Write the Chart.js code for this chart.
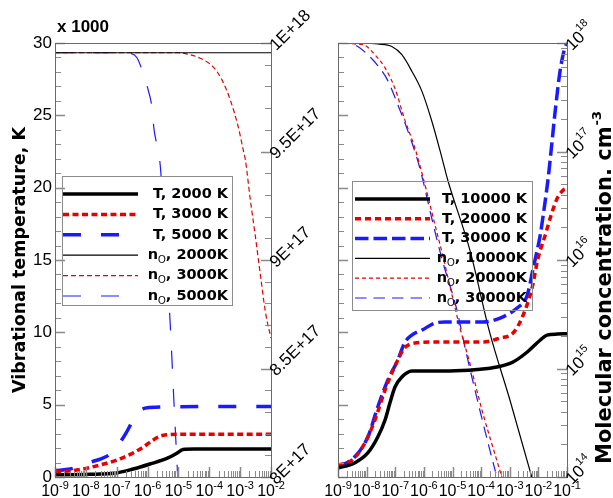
<!DOCTYPE html>
<html>
<head>
<meta charset="utf-8">
<script src="https://cdn.jsdelivr.net/npm/chart.js@4.4.1/dist/chart.umd.min.js"></script>
<style>
  html, body { margin: 0; padding: 0; background: #fff; }
  #wrap { position: relative; width: 613px; height: 498px; overflow: hidden; }
  #wrap canvas { position: absolute; left: 0; top: 0; }
</style>
</head>
<body>
<div id="wrap">
  <canvas id="left" width="613" height="498"></canvas>
  <canvas id="right" width="613" height="498"></canvas>
</div>
<script>
// time in s, temperature in units of 1000 K, concentration in cm^-3

// left panel: 2000 / 3000 / 5000 K
var tT2000 = [1e-9, 1e-8, 2.9e-8, 1e-7, 3.4e-7, 1.2e-6, 4.4e-6, 9.1e-6, 1.4e-5, 3.2e-5, 1e-2];
var T2000  = [0.15, 0.18, 0.2, 0.28, 0.55, 0.9, 1.3, 1.66, 1.9, 1.93, 1.93];
var tT3000 = [1e-9, 5.1e-9, 2.9e-8, 1e-7, 3.4e-7, 7.2e-7, 1.5e-6, 2.6e-6, 4.4e-6, 1e-5, 1e-2];
var T3000  = [0.34, 0.48, 0.83, 1.17, 1.66, 2.07, 2.55, 2.83, 2.92, 2.95, 2.95];
var tT5000 = [1e-9, 3.1e-9, 1.4e-8, 2.9e-8, 6.2e-8, 1.1e-7, 2.0e-7, 3.4e-7, 5.4e-7, 8.3e-7, 1.8e-6, 1e-2];
var T5000  = [0.45, 0.55, 1.03, 1.24, 1.59, 2.2, 3.03, 3.93, 4.55, 4.76, 4.83, 4.88];

var tN2000 = [1e-9, 1e-2];
var N2000  = [9.955e17, 9.955e17];
var tN3000 = [1e-9, 1e-5, 1.9e-5, 5.1e-5, 1.35e-4, 2.6e-4, 4.8e-4, 8.7e-4, 1.26e-3, 1.48e-3, 2.1e-3, 3.1e-3, 4.5e-3, 6.6e-3, 1e-2];
var N3000  = [9.955e17, 9.955e17, 9.949e17, 9.93e17, 9.889e17, 9.829e17, 9.737e17, 9.613e17, 9.507e17, 9.461e17, 9.286e17, 9.111e17, 8.935e17, 8.76e17, 8.64e17];
var tN5000 = [1e-9, 1.86e-7, 2.7e-7, 4.6e-7, 6.6e-7, 1.05e-6, 1.4e-6, 1.6e-6, 2.0e-6, 2.6e-6, 3.7e-6, 5.4e-6, 7.1e-6, 9.5e-6, 1.26e-5];
var N5000  = [9.955e17, 9.955e17, 9.953e17, 9.931e17, 9.876e17, 9.783e17, 9.70e17, 9.608e17, 9.53e17, 9.429e17, 9.069e17, 8.71e17, 8.355e17, 8.0e17, 7.7e17];

// right panel: 10000 / 20000 / 30000 K
var tT10000 = [1e-9, 3.8e-9, 1.1e-8, 2.45e-8, 4.4e-8, 6.5e-8, 9.8e-8, 1.7e-7, 3.8e-7, 8.1e-6, 7.2e-5, 3.6e-4, 1.3e-3, 4.1e-3, 1.17e-2, 2.0e-2, 4.6e-2, 0.1];
var T10000  = [0.62, 0.97, 1.66, 2.76, 3.94, 5.11, 6.22, 6.91, 7.33, 7.33, 7.43, 7.6, 7.95, 8.64, 9.47, 9.81, 9.88, 9.9];
var tT20000 = [1e-9, 3.1e-9, 8.7e-9, 1.95e-8, 4.4e-8, 7.6e-8, 1.23e-7, 2.1e-7, 4.9e-7, 2.45e-6, 1.23e-5, 1.17e-4, 4.6e-4, 1.3e-3, 2.95e-3, 6.0e-3, 9.8e-3, 1.74e-2, 2.6e-2, 4.6e-2, 7.4e-2, 0.1];
var T20000  = [0.83, 1.17, 2.35, 3.94, 6.01, 7.19, 8.09, 8.92, 9.26, 9.33, 9.33, 9.33, 9.61, 9.95, 11.2, 13.06, 15.14, 16.72, 17.9, 19.28, 19.83, 19.97];
var tT30000 = [1e-9, 3.8e-9, 1.1e-8, 2.45e-8, 5.5e-8, 1.23e-7, 2.1e-7, 3.8e-7, 8.5e-7, 2.45e-6, 5.5e-6, 1.45e-5, 1.17e-4, 4.6e-4, 1.8e-3, 4.1e-3, 6.6e-3, 1.16e-2, 1.6e-2, 2.2e-2, 2.8e-2, 3.9e-2, 5.8e-2, 8.0e-2, 0.1];
var T30000  = [0.69, 1.38, 2.76, 4.84, 6.7, 8.09, 9.26, 9.81, 10.15, 10.64, 10.71, 10.71, 10.71, 10.99, 11.68, 12.58, 14.44, 16.72, 18.59, 20.66, 22.6, 25.36, 28.13, 29.51, 30];

var tN10000 = [1e-9, 1.5e-8, 2.45e-8, 7.6e-8, 1.7e-7, 3.8e-7, 8.5e-7, 1.9e-6, 4.3e-6, 6.9e-6, 4.1e-5, 2.0e-4, 1.02e-3, 6.0e-3, 1e-2];
var N10000  = [9.9e17, 9.9e17, 9.8e17, 9.3e17, 7.8e17, 5.5e17, 3.6e17, 1.9e17, 8.7e16, 5.4e16, 1.22e16, 2.14e15, 5.1e14, 9.8e13, 6.0e13];
var tN20000 = [1e-9, 2.5e-9, 3.8e-9, 8.7e-9, 1.95e-8, 4.4e-8, 9.8e-8, 2.1e-7, 4.9e-7, 1.1e-6, 2.45e-6, 4.3e-6, 1.8e-5, 4.1e-5, 1.17e-4, 2.6e-4, 5.4e-4, 1e-3];
var N20000  = [9.9e17, 9.9e17, 9.8e17, 9.5e17, 7.8e17, 5.9e17, 3.8e17, 2.0e17, 1.07e17, 4.9e16, 2.1e16, 1.17e16, 2.4e15, 1.1e15, 3.8e14, 1.86e14, 9.8e13, 5.6e13];
var tN30000 = [1e-9, 2.2e-9, 4.9e-9, 1.1e-8, 2.45e-8, 5.5e-8, 1.23e-7, 2.75e-7, 6.2e-7, 9.3e-7, 1.9e-6, 4.3e-6, 1.45e-5, 2.75e-5, 9.1e-5, 2.4e-4, 3.6e-4, 6.3e-4];
var N30000  = [9.9e17, 9.9e17, 9.3e17, 7.8e17, 6.2e17, 4.5e17, 2.7e17, 1.55e17, 8.1e16, 5.4e16, 2.4e16, 1.02e16, 3.4e15, 1.55e15, 4.1e14, 1.48e14, 9.8e13, 5.0e13];

// axis ticks and labels
var tempTicks = [0, 5, 10, 15, 20, 25, 30];
var leftConcTicks = [8e17, 8.5e17, 9e17, 9.5e17, 1e18];
var leftConcLabels = ['8E+17', '8.5E+17', '9E+17', '9.5E+17', '1E+18'];
var leftTimeExps = [-9, -8, -7, -6, -5, -4, -3, -2];
var rightTimeExps = [-9, -8, -7, -6, -5, -4, -3, -2, -1];
var rightConcExps = [14, 15, 16, 17, 18];

var BLACK = '#000000', RED = '#e80000', BLUE = '#1a1aff';
var TICK = '#8a8a8a', FRAME = '#6a6a6a';
var FONT = '"Liberation Sans", Arial, sans-serif';
var BOLD = '"DejaVu Sans", Verdana, sans-serif';

function pts(xs, ys) {
  return xs.map(function (x, i) { return { x: x, y: ys[i] }; });
}

function series(label, xs, ys, axis, color, width, dash) {
  return {
    label: label, data: pts(xs, ys), yAxisID: axis,
    borderColor: color, borderWidth: width, borderDash: dash,
    borderCapStyle: 'butt', pointRadius: 0, fill: false,
    cubicInterpolationMode: 'monotone'
  };
}

function linValues(min, step, n) {
  var out = [];
  for (var i = 0; i <= n; i++) out.push(min + i * step);
  return out;
}

function logMinor(e0, e1) {
  var out = [];
  for (var e = e0; e < e1; e++)
    for (var k = 2; k <= 9; k++) out.push(k * Math.pow(10, e));
  return out;
}

function decades(exps) {
  return exps.map(function (e) { return Math.pow(10, e); });
}

function ticksV(ctx, scale, x, dir, values, len, width) {
  ctx.save();
  ctx.strokeStyle = TICK; ctx.lineWidth = width; ctx.setLineDash([]);
  ctx.beginPath();
  values.forEach(function (v) {
    var y = Math.round(scale.getPixelForValue(v)) + 0.5;
    ctx.moveTo(x, y); ctx.lineTo(x + dir * len, y);
  });
  ctx.stroke();
  ctx.restore();
}

function ticksH(ctx, scale, y, values, len, width) {
  ctx.save();
  ctx.strokeStyle = TICK; ctx.lineWidth = width; ctx.setLineDash([]);
  ctx.beginPath();
  values.forEach(function (v) {
    var x = Math.round(scale.getPixelForValue(v)) + 0.5;
    ctx.moveTo(x, y); ctx.lineTo(x, y - len);
  });
  ctx.stroke();
  ctx.restore();
}

function drawFrame(ctx, a) {
  ctx.save();
  ctx.strokeStyle = FRAME; ctx.lineWidth = 1; ctx.setLineDash([]);
  ctx.strokeRect(Math.round(a.left) + 0.5, Math.round(a.top) + 0.5,
    Math.round(a.right - a.left), Math.round(a.bottom - a.top));
  ctx.restore();
}

// "10" followed by a raised exponent, x is the left edge, y the baseline
function pow10(ctx, exp, x, y, size, supSize, rise) {
  ctx.font = size + 'px ' + FONT;
  ctx.fillText('10', x, y);
  var w = ctx.measureText('10').width;
  ctx.font = supSize + 'px ' + FONT;
  ctx.fillText(String(exp), x + w, y - rise);
}

function pow10Width(ctx, exp, size, supSize) {
  ctx.font = size + 'px ' + FONT;
  var w = ctx.measureText('10').width;
  ctx.font = supSize + 'px ' + FONT;
  return w + ctx.measureText(String(exp)).width;
}

function timeLabels(ctx, scale, exps) {
  ctx.save();
  ctx.fillStyle = '#000'; ctx.textAlign = 'left'; ctx.textBaseline = 'alphabetic';
  exps.forEach(function (e) {
    var px = scale.getPixelForValue(Math.pow(10, e));
    var w = pow10Width(ctx, e, 16, 11);
    pow10(ctx, e, px - w / 2, 496, 16, 11, 7);
  });
  ctx.restore();
}

// label text with an optional subscript marked by "_" (n_O -> n with subscript O)
function richText(ctx, text, xRight, y) {
  var parts = [];
  var s = text.split('_');
  if (s.length === 1) parts.push({ t: text, sub: false });
  else {
    parts.push({ t: s[0], sub: false });
    parts.push({ t: s[1].charAt(0), sub: true });
    parts.push({ t: s[1].slice(1), sub: false });
  }
  var main = 'bold 14.5px ' + BOLD, small = '10px ' + FONT;
  var total = 0;
  parts.forEach(function (p) { ctx.font = p.sub ? small : main; p.w = ctx.measureText(p.t).width; total += p.w; });
  var x = xRight - total;
  parts.forEach(function (p) {
    ctx.font = p.sub ? small : main;
    ctx.fillText(p.t, x, p.sub ? y + 5 : y);
    x += p.w;
  });
}

function drawLegend(ctx, datasets, box) {
  ctx.save();
  if (box.fill) { ctx.fillStyle = box.fill; ctx.fillRect(box.x, box.y, box.w, box.h); }
  ctx.strokeStyle = '#8c8c8c'; ctx.lineWidth = 1; ctx.setLineDash([]);
  ctx.strokeRect(box.x + 0.5, box.y + 0.5, box.w, box.h);
  datasets.forEach(function (ds, i) {
    var y = box.rowY + i * box.step;
    ctx.strokeStyle = ds.borderColor; ctx.lineWidth = ds.borderWidth;
    ctx.setLineDash(ds.borderDash || []); ctx.lineCap = 'butt';
    ctx.beginPath(); ctx.moveTo(box.lineX0, y); ctx.lineTo(box.lineX1, y); ctx.stroke();
    ctx.setLineDash([]);
    ctx.fillStyle = '#000'; ctx.textAlign = 'left'; ctx.textBaseline = 'middle';
    richText(ctx, ds.label, box.textRight, y);
  });
  ctx.restore();
}

var leftDecor = {
  id: 'leftDecor',
  afterDatasetsDraw: function (chart) {
    var ctx = chart.ctx, a = chart.chartArea;
    var sx = chart.scales.x, sT = chart.scales.yT, sN = chart.scales.yN;
    drawLegend(ctx, chart.data.datasets, {
      x: 62, y: 176, w: 170, h: 129, fill: '#ffffff',
      lineX0: 63, lineX1: 138, textRight: 228, rowY: 194, step: 20.4
    });
    ticksV(ctx, sT, a.left, 1, linValues(0, 1, 30), 6, 1);
    ticksV(ctx, sT, a.left, 1, tempTicks, 10, 1.5);
    ticksV(ctx, sN, a.right, -1, linValues(8e17, 1e16, 20), 6, 1);
    ticksV(ctx, sN, a.right, -1, leftConcTicks, 10, 1.5);
    ticksH(ctx, sx, a.bottom, logMinor(-9, -2), 6, 1);
    ticksH(ctx, sx, a.bottom, decades(leftTimeExps), 10, 1.5);
    drawFrame(ctx, a);

    ctx.save();
    ctx.fillStyle = '#000';
    // temperature tick labels
    ctx.font = '17px ' + FONT; ctx.textAlign = 'right'; ctx.textBaseline = 'middle';
    tempTicks.forEach(function (v) { ctx.fillText(String(v), a.left - 3, sT.getPixelForValue(v)); });
    // concentration tick labels, slanted
    ctx.textAlign = 'left';
    leftConcTicks.forEach(function (v, i) {
      ctx.save();
      ctx.translate(a.right + 2, sN.getPixelForValue(v) + 5);
      ctx.rotate(-Math.PI / 4);
      ctx.fillText(leftConcLabels[i], 0, 0);
      ctx.restore();
    });
    timeLabels(ctx, sx, leftTimeExps);
    // multiplier and axis title
    ctx.font = 'bold 17px ' + FONT; ctx.textAlign = 'left'; ctx.textBaseline = 'alphabetic';
    ctx.fillText('x 1000', 57, 32);
    ctx.save();
    ctx.translate(25, 260); ctx.rotate(-Math.PI / 2);
    ctx.font = 'bold 17.5px ' + BOLD; ctx.textAlign = 'center';
    ctx.fillText('Vibrational temperature, K', 0, 0);
    ctx.restore();
    ctx.restore();
  }
};

var rightDecor = {
  id: 'rightDecor',
  afterDatasetsDraw: function (chart) {
    var ctx = chart.ctx, a = chart.chartArea;
    var sx = chart.scales.x, sT = chart.scales.yT, sN = chart.scales.yN;
    drawLegend(ctx, chart.data.datasets, {
      x: 352, y: 181, w: 180, h: 129, fill: null,
      lineX0: 355, lineX1: 430, textRight: 527, rowY: 199, step: 19.8
    });
    ticksV(ctx, sT, a.left, 1, linValues(0, 1, 30), 6, 1);
    ticksV(ctx, sT, a.left, 1, tempTicks, 10, 1.5);
    ticksV(ctx, sN, a.right, -1, logMinor(14, 18), 6, 1);
    ticksV(ctx, sN, a.right, -1, decades(rightConcExps), 10, 1.5);
    ticksH(ctx, sx, a.bottom, logMinor(-9, -1), 6, 1);
    ticksH(ctx, sx, a.bottom, decades(rightTimeExps), 10, 1.5);
    drawFrame(ctx, a);

    ctx.save();
    ctx.fillStyle = '#000'; ctx.textAlign = 'left'; ctx.textBaseline = 'middle';
    rightConcExps.forEach(function (e) {
      ctx.save();
      ctx.translate(a.right + 2, sN.getPixelForValue(Math.pow(10, e)) + 5);
      ctx.rotate(-Math.PI / 4);
      pow10(ctx, e, 0, 0, 17, 11, 7);
      ctx.restore();
    });
    ctx.textBaseline = 'alphabetic';
    timeLabels(ctx, sx, rightTimeExps);
    // axis title with cm^-3
    ctx.save();
    ctx.translate(611, 288); ctx.rotate(-Math.PI / 2);
    var title = 'Molecular concentration. cm';
    ctx.font = 'bold 21px ' + BOLD;
    var w1 = ctx.measureText(title).width;
    ctx.font = 'bold 13px ' + BOLD;
    var w2 = ctx.measureText('-3').width;
    var x0 = -(w1 + w2) / 2;
    ctx.font = 'bold 21px ' + BOLD; ctx.textAlign = 'left';
    ctx.fillText(title, x0, 0);
    ctx.font = 'bold 13px ' + BOLD;
    ctx.fillText('-3', x0 + w1 + 1, -10);
    ctx.restore();
    ctx.restore();
  }
};

function baseOptions(pad, concScale) {
  return {
    responsive: false,
    animation: false,
    layout: { padding: pad },
    scales: {
      x: { type: 'logarithmic', display: false },
      yT: { type: 'linear', position: 'left', min: 0, max: 30, display: false },
      yN: concScale
    },
    plugins: { legend: { display: false }, tooltip: { enabled: false } }
  };
}

var leftOpts = baseOptions({ left: 55, top: 43, right: 342, bottom: 21 },
  { type: 'linear', position: 'right', min: 8e17, max: 1e18, display: false });
leftOpts.scales.x.min = 1e-9; leftOpts.scales.x.max = 1e-2;

new Chart(document.getElementById('left'), {
  type: 'line',
  data: {
    datasets: [
      series('T, 2000 K', tT2000, T2000, 'yT', BLACK, 3.5, []),
      series('T, 3000 K', tT3000, T3000, 'yT', RED, 3.5, [6, 3.5]),
      series('T, 5000 K', tT5000, T5000, 'yT', BLUE, 3.5, [18, 20]),
      series('n_O, 2000K', tN2000, N2000, 'yN', BLACK, 1.2, []),
      series('n_O, 3000K', tN3000, N3000, 'yN', RED, 1.2, [5, 3]),
      series('n_O, 5000K', tN5000, N5000, 'yN', BLUE, 1.2, [18, 20])
    ]
  },
  options: leftOpts,
  plugins: [leftDecor]
});

var rightOpts = baseOptions({ left: 338, top: 43, right: 46, bottom: 21 },
  { type: 'logarithmic', position: 'right', min: 1e14, max: 1e18, display: false });
rightOpts.scales.x.min = 1e-9; rightOpts.scales.x.max = 1e-1;

new Chart(document.getElementById('right'), {
  type: 'line',
  data: {
    datasets: [
      series('T, 10000 K', tT10000, T10000, 'yT', BLACK, 3.5, []),
      series('T, 20000 K', tT20000, T20000, 'yT', RED, 3.5, [6, 4]),
      series('T, 30000 K', tT30000, T30000, 'yT', BLUE, 3.5, [13.5, 5]),
      series('n_O, 10000K', tN10000, N10000, 'yN', BLACK, 1.2, []),
      series('n_O, 20000K', tN20000, N20000, 'yN', RED, 1.2, [4, 3]),
      series('n_O, 30000K', tN30000, N30000, 'yN', BLUE, 1.2, [11.5, 7])
    ]
  },
  options: rightOpts,
  plugins: [rightDecor]
});
</script>
</body>
</html>
